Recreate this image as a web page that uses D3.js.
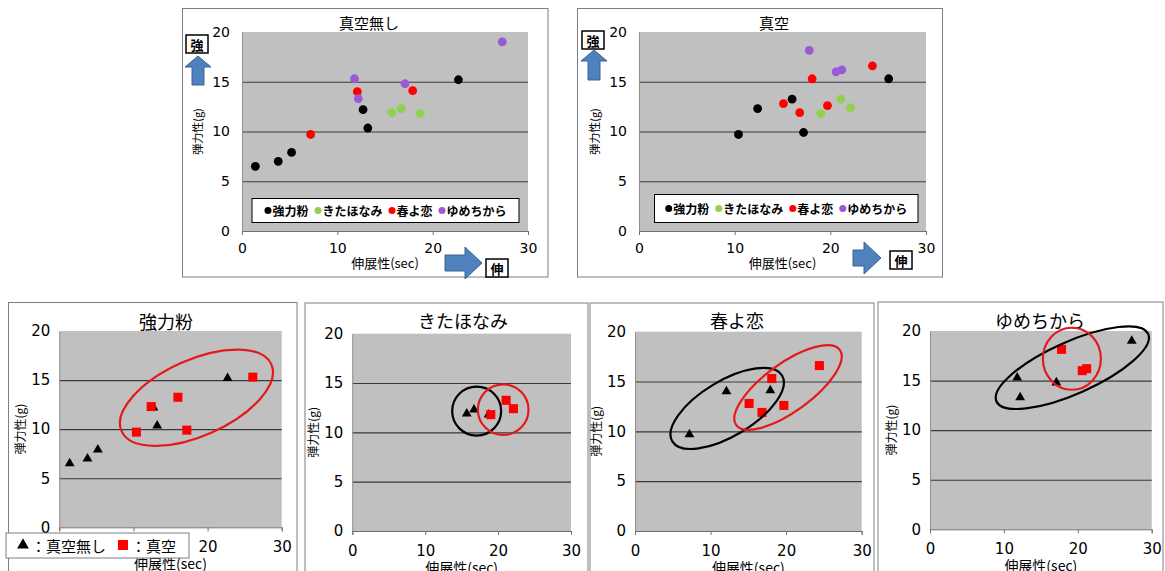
<!DOCTYPE html>
<meta charset="utf-8">
<title>伸展性と弾力性</title>
<style>
  body { margin: 0; background: #fff; }
  svg { display: block; }
  text { font-family: "Noto Sans CJK JP", "DejaVu Sans", sans-serif; fill: #000; }
  .tick text { font-family: "DejaVu Sans", sans-serif; }
</style>
<body>
<svg width="1165" height="571"></svg>
<script src="https://d3js.org/d3.v7.min.js"></script>
<script>

// axis ticks
var xTicks = [0, 10, 20, 30];
var yTicks = [0, 5, 10, 15, 20];

var varieties = ["強力粉", "きたほなみ", "春よ恋", "ゆめちから"];
var varietyColors = ["#000000", "#92d050", "#ff0000", "#9b59d6"];

// [伸展性 (sec), 弾力性 (g)]
// 真空無し
var noVacKyoryoku = [[1.4, 6.5], [3.8, 7.0], [5.2, 7.9], [12.7, 12.2], [13.2, 10.35], [22.7, 15.2]];
var noVacKitahonami = [[15.7, 11.9], [16.7, 12.3], [18.7, 11.8]];
var noVacHaruyokoi = [[7.2, 9.7], [12.1, 14.0], [17.9, 14.1]];
var noVacYumechikara = [[11.8, 15.3], [12.2, 13.3], [17.1, 14.8], [27.3, 19.0]];
// 真空
var vacKyoryoku = [[10.4, 9.7], [12.4, 12.3], [16.0, 13.25], [17.2, 9.9], [26.1, 15.3]];
var vacKitahonami = [[19.0, 11.8], [21.1, 13.25], [22.1, 12.4]];
var vacHaruyokoi = [[15.1, 12.8], [16.8, 11.9], [18.1, 15.3], [19.7, 12.6], [24.4, 16.6]];
var vacYumechikara = [[17.8, 18.15], [20.6, 16.0], [21.2, 16.2]];

var noVac = [noVacKyoryoku, noVacKitahonami, noVacHaruyokoi, noVacYumechikara];
var vac = [vacKyoryoku, vacKitahonami, vacHaruyokoi, vacYumechikara];

var svg = d3.select("svg");

// one chart panel: frame, grey plot, grid, axes, titles
function drawPanel(cfg) {
  var g = svg.append("g");
  var p = cfg.plot;
  var x = d3.scaleLinear().domain([0, 30]).range([p[0], p[2]]);
  var y = d3.scaleLinear().domain([0, 20]).range([p[3], p[1]]);

  g.append("rect")
    .attr("x", cfg.frame[0]).attr("y", cfg.frame[1])
    .attr("width", cfg.frame[2] - cfg.frame[0])
    .attr("height", cfg.frame[3] - cfg.frame[1])
    .attr("fill", "#fff").attr("stroke", "#7f7f7f");

  g.append("rect")
    .attr("x", p[0]).attr("y", p[1])
    .attr("width", p[2] - p[0]).attr("height", p[3] - p[1])
    .attr("fill", "#c0c0c0");

  var grid = g.append("g")
    .attr("transform", "translate(" + p[0] + ",0)")
    .call(d3.axisLeft(y).tickValues(yTicks.slice(1, -1)).tickSize(-(p[2] - p[0])).tickFormat(""));
  grid.select(".domain").remove();
  grid.selectAll("line").attr("stroke", "#3a3a3a").attr("stroke-width", 1.1);

  var ya = g.append("g")
    .attr("transform", "translate(" + p[0] + ",0)")
    .call(d3.axisLeft(y).tickValues(yTicks).tickSize(0).tickPadding(cfg.yPad));
  ya.select(".domain").attr("stroke", "#909090");
  ya.selectAll("text").style("font-size", cfg.tickFont + "px");

  var xa = g.append("g")
    .attr("transform", "translate(0," + p[3] + ")")
    .call(d3.axisBottom(x).tickValues(xTicks).tickSize(4).tickPadding(cfg.xPad));
  xa.select(".domain").attr("stroke", "#707070");
  xa.selectAll("line").attr("stroke", "#707070");
  xa.selectAll("text").style("font-size", cfg.tickFont + "px");

  g.append("text")
    .attr("x", cfg.titlePos[0]).attr("y", cfg.titlePos[1])
    .attr("text-anchor", "middle").attr("dominant-baseline", "central")
    .style("font-size", cfg.titleFont + "px")
    .text(cfg.title);

  g.append("text")
    .attr("transform", "translate(" + (p[0] - cfg.yTitleOff) + "," + ((p[1] + p[3]) / 2) + ") rotate(-90)")
    .attr("text-anchor", "middle").attr("dominant-baseline", "central")
    .style("font-size", cfg.yTitleFont + "px")
    .text("弾力性(g)");

  g.append("text")
    .attr("x", (p[0] + p[2]) / 2).attr("y", p[3] + cfg.xTitleOff)
    .attr("text-anchor", "middle").attr("dominant-baseline", "central")
    .style("font-size", cfg.xTitleFont + "px")
    .text("伸展性(sec)");

  return { g: g, x: x, y: y };
}

// blue arrows with boxed 強 / 伸
function drawArrows(g, cfg) {
  var p = cfg.plot, a = cfg.arrows;
  var cx = p[0] + a.upX, t = p[1] + a.upTop, b = p[1] + a.upBottom;
  g.append("path")
    .attr("d", "M" + cx + "," + t + "L" + (cx + 13) + "," + (t + 11) + "L" + (cx + 6) + "," + (t + 11) +
      "L" + (cx + 6) + "," + b + "L" + (cx - 6) + "," + b + "L" + (cx - 6) + "," + (t + 11) +
      "L" + (cx - 13) + "," + (t + 11) + "Z")
    .attr("fill", "#4f81bd").attr("stroke", "#3a6596");
  boxText(g, p[0] + a.upX - 12, p[1] + a.boxTop, "強");

  var cy = p[3] + a.rightY, l = p[2] + a.rightL, r = p[2] + a.rightR;
  g.append("path")
    .attr("d", "M" + r + "," + cy + "L" + (r - 17) + "," + (cy - 16) + "L" + (r - 17) + "," + (cy - 8) +
      "L" + l + "," + (cy - 8) + "L" + l + "," + (cy + 8) + "L" + (r - 17) + "," + (cy + 8) +
      "L" + (r - 17) + "," + (cy + 16) + "Z")
    .attr("fill", "#4f81bd").attr("stroke", "#3a6596");
  boxText(g, p[2] + a.boxL, p[3] + a.boxTop2, "伸");
}

function boxText(g, bx, by, s) {
  g.append("rect").attr("x", bx).attr("y", by).attr("width", 22).attr("height", 18)
    .attr("fill", "#fff").attr("stroke", "#000").attr("stroke-width", 1.5);
  g.append("text").attr("x", bx + 11).attr("y", by + 9.5)
    .attr("text-anchor", "middle").attr("dominant-baseline", "central")
    .style("font-size", "13px").style("font-weight", "bold").text(s);
}

// top two panels
var topPanels = [
  { title: "真空無し", sets: noVac, frame: [182.5, 8.5, 548, 277], plot: [242, 32, 528, 231], titlePos: [369, 22],
    legend: [252, 198.5, 519, 222.5],
    arrows: { upX: -44, upTop: 24, upBottom: 53, boxTop: 3, rightY: 32, rightL: -83, rightR: -46, boxL: -42, boxTop2: 28 } },
  { title: "真空", sets: vac, frame: [577.5, 8.5, 942.5, 277], plot: [639, 32, 926, 231], titlePos: [774, 22],
    legend: [654.5, 194.5, 918, 222.5],
    arrows: { upX: -45, upTop: 18, upBottom: 48, boxTop: -1, rightY: 27, rightL: -73, rightR: -45, boxL: -36, boxTop2: 20 } }
];

topPanels.forEach(function(cfg) {
  cfg.tickFont = 14; cfg.titleFont = 15; cfg.yPad = 12; cfg.xPad = 8;
  cfg.yTitleOff = 45; cfg.yTitleFont = 11; cfg.xTitleOff = 31; cfg.xTitleFont = 13;
  var pn = drawPanel(cfg);

  cfg.sets.forEach(function(set, i) {
    pn.g.append("g").selectAll("circle")
      .data(set).enter().append("circle")
      .attr("cx", function(d) { return pn.x(d[0]); })
      .attr("cy", function(d) { return pn.y(d[1]); })
      .attr("r", 4.4)
      .attr("fill", varietyColors[i]);
  });

  // legend
  var L = cfg.legend;
  pn.g.append("rect").attr("x", L[0]).attr("y", L[1]).attr("width", L[2] - L[0]).attr("height", L[3] - L[1])
    .attr("fill", "#fff").attr("stroke", "#000");
  var lg = pn.g.append("g");
  var cur = 0;
  varieties.forEach(function(v, i) {
    lg.append("circle").attr("cx", cur + 3.5).attr("cy", 0).attr("r", 3.5).attr("fill", varietyColors[i]);
    var t = lg.append("text").attr("x", cur + 8).attr("y", 0).attr("dominant-baseline", "central")
      .style("font-size", "12px").style("font-weight", "bold").text(v);
    cur += 8 + t.node().getComputedTextLength() + 6;
  });
  var lw = cur - 6;
  lg.attr("transform", "translate(" + ((L[0] + L[2]) / 2 - lw / 2) + "," + ((L[1] + L[3]) / 2) + ")");

  drawArrows(pn.g, cfg);
});

// ellipses around groups: centre in data units, radii in px, angle in degrees
var ellipses = [
  [{ c: [18.5, 13.2], rx: 82, ry: 38, a: -24, color: "#e31a1c" }],
  [{ c: [17.06, 12.16], rx: 24.5, ry: 24.5, a: 0, color: "#000" }, { c: [20.7, 12.3], rx: 25.3, ry: 25.3, a: 0, color: "#e31a1c" }],
  [{ c: [12.2, 12.3], rx: 64, ry: 27.5, a: -31, color: "#000" }, { c: [20.25, 14.4], rx: 64, ry: 24, a: -36, color: "#e31a1c" }],
  [{ c: [19.26, 16.3], rx: 83, ry: 26, a: -24, color: "#000" }, { c: [19.2, 17.2], rx: 29, ry: 31, a: 0, color: "#e31a1c" }]
];

var bottomPanels = [
  { frame: [8.5, 302.5, 297, 585], plot: [59.3, 331, 281.7, 527.3], titlePos: [166, 321] },
  { frame: [305, 303, 588, 585], plot: [352.3, 333.7, 571, 531], titlePos: [463, 320] },
  { frame: [590, 303, 874, 585], plot: [635, 331.7, 861.7, 531], titlePos: [737, 320] },
  { frame: [878, 302, 1163, 585], plot: [930, 331, 1151.7, 529.3], titlePos: [1040, 320] }
];

var tri = d3.symbol().type(d3.symbolTriangle).size(42);
var sq = d3.symbol().type(d3.symbolSquare).size(82);

bottomPanels.forEach(function(cfg, i) {
  cfg.title = varieties[i];
  cfg.tickFont = 15; cfg.titleFont = 18; cfg.yPad = 9; cfg.xPad = 10;
  cfg.yTitleOff = 40; cfg.yTitleFont = 12; cfg.xTitleOff = 36; cfg.xTitleFont = 14;
  var pn = drawPanel(cfg);

  pn.g.append("g").selectAll("path")
    .data(noVac[i]).enter().append("path")
    .attr("d", tri)
    .attr("transform", function(d) { return "translate(" + pn.x(d[0]) + "," + pn.y(d[1]) + ")"; })
    .attr("fill", "#000");

  pn.g.append("g").selectAll("path")
    .data(vac[i]).enter().append("path")
    .attr("d", sq)
    .attr("transform", function(d) { return "translate(" + pn.x(d[0]) + "," + pn.y(d[1]) + ")"; })
    .attr("fill", "#ff0000");

  pn.g.append("g").selectAll("ellipse")
    .data(ellipses[i]).enter().append("ellipse")
    .attr("transform", function(d) {
      return "translate(" + pn.x(d.c[0]) + "," + pn.y(d.c[1]) + ") rotate(" + d.a + ")";
    })
    .attr("rx", function(d) { return d.rx; })
    .attr("ry", function(d) { return d.ry; })
    .attr("fill", "none")
    .attr("stroke", function(d) { return d.color; })
    .attr("stroke-width", 2.2);

  if (i === 0) {
    // marker legend over the first panel
    var lg = pn.g.append("g");
    lg.append("rect").attr("x", 6).attr("y", 533).attr("width", 183).attr("height", 25)
      .attr("fill", "#fff").attr("stroke", "#7f7f7f");
    lg.append("path").attr("d", d3.symbol().type(d3.symbolTriangle).size(60))
      .attr("transform", "translate(23,545)").attr("fill", "#000");
    lg.append("text").attr("x", 31).attr("y", 545).attr("dominant-baseline", "central")
      .style("font-size", "15px").text("：真空無し");
    lg.append("rect").attr("x", 118).attr("y", 540).attr("width", 10).attr("height", 10).attr("fill", "#ff0000");
    lg.append("text").attr("x", 131).attr("y", 545).attr("dominant-baseline", "central")
      .style("font-size", "15px").text("：真空");
  }
});

</script>
</body>
